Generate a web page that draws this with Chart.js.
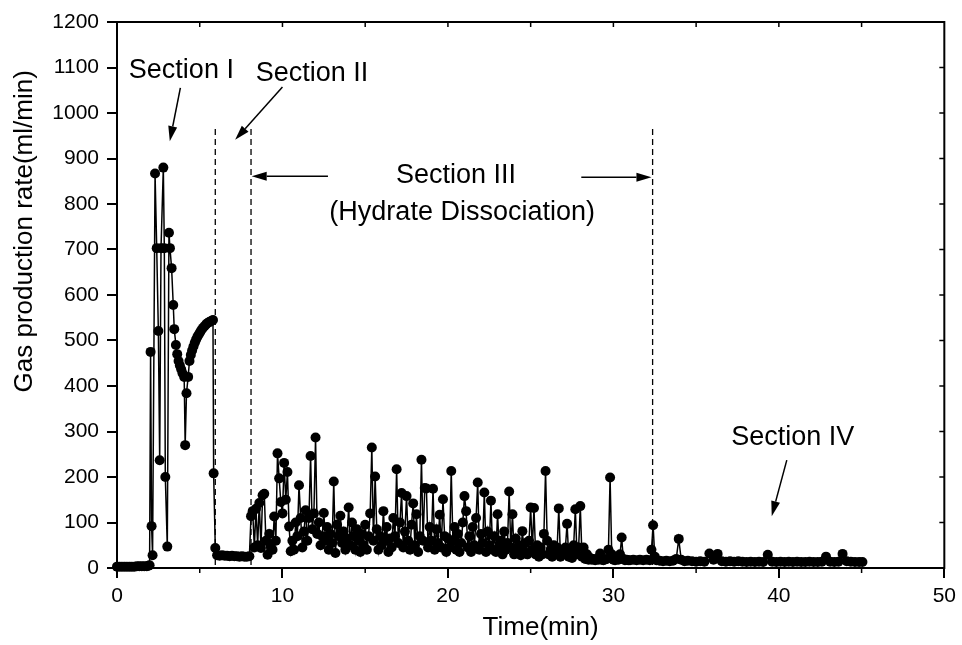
<!DOCTYPE html>
<html><head><meta charset="utf-8">
<script src="https://cdn.jsdelivr.net/npm/chart.js@4"></script>
<style>html,body{margin:0;padding:0;background:#fff}</style>
</head><body>
<canvas id="c" width="962" height="645"></canvas>
<script>
// ---- data (time in min, gas production rate in ml/min) ----
const timesStart = [0,0.15,0.3,0.45,0.6,0.75,0.9,1.05,1.2,1.35,1.5,1.65,1.8,1.9,1.97];
const ratesStart = [3,3,3,3,3,3,3,3,4,4,4,4,4,5,6];

const timesSec1 = [2.03,2.09,2.15,2.3,2.4,2.5,2.58,2.66,2.8,2.86,2.92,3.04,3.14,3.2,3.3,3.4,3.46,3.56,3.64,3.72,3.8,3.88,3.96,4.06,4.12,4.2,4.3,4.38,4.46,4.54,4.62,4.7,4.78,4.86,4.94,5.02,5.1,5.2,5.3,5.4,5.5,5.6,5.7,5.8,5.84,5.94];
const ratesSec1 = [475,92,28,867,703,521,237,703,880,703,200,47,737,703,659,578,525,490,470,455,445,437,428,420,270,384,420,455,468,478,487,495,502,508,513,518,523,528,532,536,539,541,543,545,208,44];

const timesSec2 = [6.05,6.2,6.35,6.5,6.65,6.8,6.95,7.1,7.25,7.4,7.55,7.7,7.85,8.0];
const ratesSec2 = [28,27,28,27,27,26,27,26,26,25,26,25,25,26];

const timesSec3 = [
 8.1,8.2,8.3,8.4,8.5,8.6,8.7,8.8,8.9,9.0,
 9.1,9.2,9.3,9.4,9.5,9.6,9.7,9.8,9.9,10.0,
 10.1,10.2,10.3,10.4,10.5,10.6,10.7,10.8,10.9,11.0,
 11.1,11.2,11.3,11.4,11.5,11.6,11.7,11.8,11.9,12.0,
 12.1,12.2,12.3,12.4,12.5,12.6,12.7,12.8,12.9,13.0,
 13.1,13.2,13.3,13.4,13.5,13.6,13.7,13.8,13.9,14.0,
 14.1,14.2,14.3,14.4,14.5,14.6,14.7,14.8,14.9,15.0,
 15.1,15.2,15.3,15.4,15.5,15.6,15.7,15.8,15.9,16.0,
 16.1,16.2,16.3,16.4,16.5,16.6,16.7,16.8,16.9,17.0,
 17.1,17.2,17.3,17.4,17.5,17.6,17.7,17.8,17.9,18.0,
 18.1,18.2,18.3,18.4,18.5,18.6,18.7,18.8,18.9,19.0,
 19.1,19.2,19.3,19.4,19.5,19.6,19.7,19.8,19.9,20.0,
 20.1,20.2,20.3,20.4,20.5,20.6,20.7,20.8,20.9,21.0,
 21.1,21.2,21.3,21.4,21.5,21.6,21.7,21.8,21.9,22.0,
 22.1,22.2,22.3,22.4,22.5,22.6,22.7,22.8,22.9,23.0,
 23.1,23.2,23.3,23.4,23.5,23.6,23.7,23.8,23.9,24.0,
 24.1,24.2,24.3,24.4,24.5,24.6,24.7,24.8,24.9,25.0,
 25.1,25.2,25.3,25.4,25.5,25.6,25.7,25.8,25.9,26.0,
 26.1,26.2,26.3,26.4,26.5,26.6,26.7,26.8,26.9,27.0,
 27.1,27.2,27.3,27.4,27.5,27.6,27.7,27.8,27.9,28.0,
 28.1,28.2,28.3,28.4,28.5,28.6,28.7,28.8,28.9,29.0,
 29.1,29.2,29.3,29.4,29.5,29.6,29.7,29.8,29.9,30.0,
 30.1,30.2,30.3,30.4,30.5,30.6,30.7,30.8,30.9,31.0,
 31.2,31.4,31.6,31.8,32.0,32.2,32.3,32.4,32.5,32.6];
const ratesSec3 = [
 114,125,45,130,50,143,44,160,163,60,
 29,75,52,40,113,60,252,197,145,120,
 231,150,211,91,37,60,40,100,70,182,
 110,45,80,127,60,110,246,85,120,287,
 75,100,50,70,121,60,90,40,75,55,
 190,33,95,70,115,55,80,40,65,133,
 50,100,70,40,85,60,35,75,50,95,
 40,70,120,265,60,201,85,40,70,50,
 125,60,90,35,65,45,110,70,217,55,
 100,165,45,80,158,60,40,95,142,50,
 118,35,70,238,60,176,175,45,90,60,
 174,40,85,55,117,45,151,70,35,65,
 45,213,60,90,40,75,35,55,100,158,
 125,45,70,35,90,50,110,188,40,75,
 55,166,35,80,50,148,40,70,35,118,
 45,60,30,80,40,55,168,45,118,30,
 65,35,50,28,81,35,55,30,60,133,
 40,132,30,50,25,45,30,75,213,60,
 30,40,25,50,30,45,131,25,40,30,
 45,97,25,35,22,50,129,30,45,136,
 25,45,20,30,18,22,18,20,17,20,
 18,32,18,17,19,20,40,199,30,18,
 17,20,18,30,67,20,17,18,17,17,
 18,17,18,17,18,17,40,94,25,17];

const timesSec4 = [32.8,33.0,33.2,33.4,33.6,33.8,33.95,34.1,34.3,34.5,34.75,35.0,35.25,35.5,35.8,36.05,36.3,36.55,36.8,37.05,37.3,37.55,37.8,38.05,38.3,38.55,38.8,39.05,39.33,39.6,39.85,40.1,40.35,40.6,40.85,41.1,41.35,41.6,41.85,42.1,42.35,42.6,42.85,43.1,43.35,43.6,43.85,44.1,44.35,44.6,44.85,45.05];
const ratesSec4 = [16,15,16,15,16,20,64,18,15,16,15,14,15,14,32,18,31,15,14,15,14,15,14,13,14,13,14,13,29,14,13,14,13,14,13,14,13,13,14,13,13,14,25,14,13,14,31,15,14,13,13,13];

// axis ticks and titles
const xTicks = [0,10,20,30,40,50];
const yTicks = [0,100,200,300,400,500,600,700,800,900,1000,1100,1200];
const xTitle = 'Time(min)';
const yTitle = 'Gas production rate(ml/min)';

// annotation anchors (data coordinates)
const boundaryTimes = [5.94, 8.1, 32.37];
const boundaryTop = 965;
const labelTexts = ['Section I','Section II','Section III','(Hydrate Dissociation)','Section IV'];
const labelTimes = [3.89, 11.78, 20.49, 20.86, 40.84];
const labelRates = [1077, 1070, 846, 765, 270];
const arrowFromTimes = [3.83, 10.0, 12.75, 28.06, 40.48];
const arrowFromRates = [1055, 1057, 861, 859, 237];
const arrowToTimes = [3.19, 7.14, 8.14, 32.3, 39.57];
const arrowToRates = [938, 941, 861, 859, 114];

const allTimes = [].concat(timesStart, timesSec1, timesSec2, timesSec3, timesSec4);
const allRates = [].concat(ratesStart, ratesSec1, ratesSec2, ratesSec3, ratesSec4);
const points = allTimes.map((t, i) => ({x: t, y: allRates[i]}));

const FONT = "'Liberation Sans', Arial, Helvetica, sans-serif";

function arrow(ctx, x1, y1, x2, y2) {
  const ang = Math.atan2(y2 - y1, x2 - x1);
  const hl = 15, hw = 4.5;
  const bx = x2 - hl * Math.cos(ang), by = y2 - hl * Math.sin(ang);
  ctx.beginPath();
  ctx.moveTo(x1, y1); ctx.lineTo(bx, by);
  ctx.lineWidth = 1.5; ctx.strokeStyle = '#000'; ctx.stroke();
  ctx.beginPath();
  ctx.moveTo(x2, y2);
  ctx.lineTo(bx + hw * Math.sin(ang), by - hw * Math.cos(ang));
  ctx.lineTo(bx - hw * Math.sin(ang), by + hw * Math.cos(ang));
  ctx.closePath(); ctx.fillStyle = '#000'; ctx.fill();
}

const decor = {
  id: 'decor',
  afterDraw(chart) {
    const {ctx, chartArea: a, scales: {x, y}} = chart;
    ctx.save();
    ctx.strokeStyle = '#000';
    // frame top/right
    ctx.lineWidth = 2;
    ctx.beginPath();
    ctx.moveTo(a.left - 1, a.top); ctx.lineTo(a.right, a.top); ctx.lineTo(a.right, a.bottom + 1);
    ctx.stroke();
    // right inward ticks
    ctx.lineWidth = 1.5;
    yTicks.forEach(v => {
      const py = y.getPixelForValue(v);
      ctx.beginPath(); ctx.moveTo(a.right, py); ctx.lineTo(a.right - 5, py); ctx.stroke();
    });
    // top inward ticks and bottom minor ticks every 5
    for (let t = 5; t < 50; t += 5) {
      const px = x.getPixelForValue(t);
      ctx.beginPath(); ctx.moveTo(px, a.top); ctx.lineTo(px, a.top + 5); ctx.stroke();
      if (t % 10 !== 0) {
        ctx.beginPath(); ctx.moveTo(px, a.bottom); ctx.lineTo(px, a.bottom + 5); ctx.stroke();
      }
    }
    // dashed boundaries
    ctx.setLineDash([6, 4]);
    ctx.lineWidth = 1.3;
    boundaryTimes.forEach(t => {
      const px = x.getPixelForValue(t);
      ctx.beginPath(); ctx.moveTo(px, y.getPixelForValue(boundaryTop)); ctx.lineTo(px, y.getPixelForValue(0)); ctx.stroke();
    });
    ctx.setLineDash([]);
    // arrows
    arrowFromTimes.forEach((t, i) => {
      arrow(ctx, x.getPixelForValue(t), y.getPixelForValue(arrowFromRates[i]),
                 x.getPixelForValue(arrowToTimes[i]), y.getPixelForValue(arrowToRates[i]));
    });
    // labels
    ctx.fillStyle = '#000';
    ctx.font = '27px ' + FONT;
    ctx.textAlign = 'center'; ctx.textBaseline = 'alphabetic';
    labelTexts.forEach((s, i) => {
      ctx.fillText(s, x.getPixelForValue(labelTimes[i]), y.getPixelForValue(labelRates[i]));
    });
    // axis titles
    ctx.font = '26px ' + FONT;
    ctx.textBaseline = 'middle';
    ctx.fillText(xTitle, x.getPixelForValue(25.6), 628);
    ctx.save();
    ctx.translate(25, y.getPixelForValue(740));
    ctx.rotate(-Math.PI / 2);
    ctx.fillText(yTitle, 0, 0);
    ctx.restore();
    ctx.restore();
  }
};

new Chart(document.getElementById('c'), {
  type: 'scatter',
  data: { datasets: [{
    label: 'Gas production rate',
    data: points,
    showLine: true,
    borderColor: '#000',
    borderWidth: 1.5,
    pointRadius: 5,
    pointBackgroundColor: '#000',
    pointBorderColor: '#000',
    pointBorderWidth: 0,
    clip: 12
  }]},
  options: {
    responsive: false,
    animation: false,
    devicePixelRatio: 1,
    layout: { padding: { left: 0, right: 15, top: 22, bottom: 0 } },
    plugins: { legend: { display: false }, tooltip: { enabled: false } },
    scales: {
      x: {
        type: 'linear', min: 0, max: 50,
        afterBuildTicks: s => { s.ticks = xTicks.map(v => ({value: v})); },
        afterFit: s => { s.height = 77; },
        ticks: { color: '#000', font: { family: FONT, size: 21 }, padding: 6, maxRotation: 0, callback: v => String(v) },
        grid: { display: true, drawOnChartArea: false, drawTicks: true, tickLength: 10, color: '#000', lineWidth: 2 },
        border: { display: true, color: '#000', width: 2 }
      },
      y: {
        type: 'linear', min: 0, max: 1200,
        afterBuildTicks: s => { s.ticks = yTicks.map(v => ({value: v})); },
        afterFit: s => { s.width = 117; },
        ticks: { color: '#000', font: { family: FONT, size: 21 }, padding: 8, callback: v => String(v) },
        grid: { display: true, drawOnChartArea: false, drawTicks: true, tickLength: 10, color: '#000', lineWidth: 2 },
        border: { display: true, color: '#000', width: 2 }
      }
    }
  },
  plugins: [decor]
});
</script>
</body></html>
